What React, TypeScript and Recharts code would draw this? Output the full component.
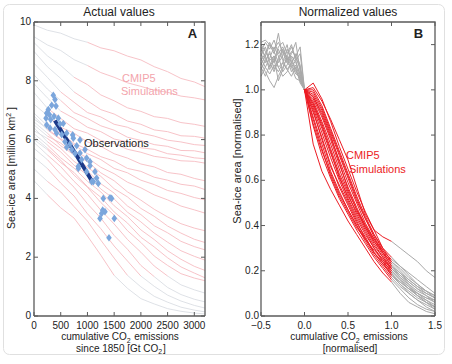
import React from "react";
import { ComposedChart, Line, Scatter, XAxis, YAxis } from "recharts";

const FONT = '"Liberation Sans", Arial, Helvetica, sans-serif';
const FRAME = "#5a5a5a";
const INK = "#222";
const GREY_A = "#dadee3";
const PINK_A = "#f6bcc2";
const GREY_B = "#a9a9a9";
const RED_B = "#ec1c24";
const OBS = "#7ba6dc";
const OBS_FIT = "#1c3a8a";

// ---- panel A: actual values (sea-ice area vs cumulative emissions) ----
const domainXA = [0, 3200];
const domainYA = [0, 10];
const emissionsA = [0, 250, 500, 750, 1000, 1250, 1500, 1750, 2000, 2250, 2500, 2750, 3000, 3200];
const modelAreaA = [
  [9.9, 9.72, 9.62, 9.43, 9.31, 9.12, 9.02, 8.84, 8.71, 8.48, 8.31, 8.08, 7.96, 7.8],
  [9.5, 9.22, 9.03, 8.72, 8.52, 8.28, 8.12, 7.93, 7.81, 7.68, 7.61, 7.48, 7.42, 7.35],
  [9.3, 8.85, 8.52, 8.12, 7.87, 7.52, 7.32, 7.08, 6.96, 6.78, 6.72, 6.58, 6.52, 6.45],
  [9.0, 8.48, 8.08, 7.62, 7.32, 7.02, 6.87, 6.63, 6.52, 6.33, 6.27, 6.13, 6.11, 6.05],
  [8.6, 8.12, 7.62, 7.27, 6.92, 6.77, 6.52, 6.42, 6.22, 6.12, 5.98, 5.92, 5.83, 5.8],
  [8.2, 7.72, 7.33, 6.92, 6.72, 6.47, 6.32, 6.08, 5.97, 5.83, 5.77, 5.63, 5.62, 5.55],
  [7.9, 7.42, 6.97, 6.72, 6.42, 6.27, 6.02, 5.92, 5.72, 5.67, 5.52, 5.47, 5.38, 5.35],
  [7.6, 7.07, 6.72, 6.37, 6.22, 5.97, 5.87, 5.67, 5.57, 5.43, 5.37, 5.28, 5.26, 5.2],
  [7.2, 6.82, 6.42, 6.22, 5.92, 5.77, 5.52, 5.37, 5.17, 5.07, 4.88, 4.82, 4.68, 4.6],
  [6.9, 6.47, 6.22, 5.87, 5.67, 5.42, 5.27, 5.02, 4.92, 4.72, 4.62, 4.48, 4.42, 4.3],
  [6.7, 6.37, 6.02, 5.82, 5.52, 5.32, 5.02, 4.87, 4.62, 4.47, 4.27, 4.17, 4.03, 3.95],
  [6.8, 6.33, 6.0, 5.62, 5.38, 5.06, 4.84, 4.55, 4.36, 4.12, 3.95, 3.74, 3.61, 3.5],
  [6.5, 6.12, 5.88, 5.52, 5.25, 4.87, 4.6, 4.22, 3.94, 3.63, 3.37, 3.14, 2.99, 2.9],
  [6.6, 6.22, 5.79, 5.48, 5.05, 4.75, 4.33, 4.05, 3.66, 3.39, 3.06, 2.82, 2.61, 2.5],
  [6.3, 6.04, 5.7, 5.26, 4.93, 4.5, 4.18, 3.74, 3.45, 3.07, 2.83, 2.54, 2.36, 2.25],
  [6.4, 5.93, 5.58, 5.13, 4.8, 4.32, 3.98, 3.53, 3.2, 2.82, 2.51, 2.22, 2.03, 1.9],
  [6.2, 5.82, 5.38, 5.03, 4.58, 4.22, 3.75, 3.38, 2.93, 2.6, 2.22, 1.93, 1.69, 1.55],
  [6.0, 5.66, 5.22, 4.88, 4.4, 4.04, 3.54, 3.16, 2.68, 2.35, 1.98, 1.67, 1.46, 1.3],
  [6.1, 5.71, 5.3, 4.79, 4.38, 3.86, 3.43, 2.9, 2.5, 2.04, 1.72, 1.44, 1.29, 1.2],
  [5.9, 5.48, 5.08, 4.58, 4.14, 3.6, 3.13, 2.6, 2.17, 1.7, 1.36, 1.06, 0.89, 0.78],
  [5.7, 5.32, 4.82, 4.38, 3.82, 3.33, 2.74, 2.27, 1.72, 1.34, 0.97, 0.73, 0.57, 0.48],
  [5.4, 5.02, 4.52, 4.08, 3.48, 2.97, 2.38, 1.87, 1.36, 1.01, 0.71, 0.51, 0.36, 0.27],
  [5.0, 4.58, 4.22, 3.72, 3.23, 2.58, 1.97, 1.38, 0.99, 0.67, 0.47, 0.3, 0.2, 0.14],
  [4.6, 4.12, 3.68, 3.33, 2.72, 2.07, 1.38, 0.94, 0.59, 0.41, 0.25, 0.16, 0.1, 0.07],
];
// index on the emission grid where each model turns pink, and where it turns grey again
const pinkFromA = [4, 4, 3, 3, 2, 2, 2, 1, 1, 1, 1, 1, 1, 1, 1, 1, 1, 1, 1, 1, 1, 1, 1, 1];
const pinkToA = [13, 13, 13, 13, 13, 13, 13, 13, 13, 13, 13, 13, 13, 13, 13, 13, 13, 13, 13, 10, 9, 8, 7, 6];

const obsEmissions = [
  361, 393, 331, 412, 268, 237, 287, 374, 225, 312, 237, 300, 393, 455, 487, 424, 518, 612,
  580, 674, 736, 612, 705, 799, 861, 955, 985, 892, 1048, 830, 830, 985, 1141, 1110, 1203,
  1297, 1453, 1266, 1328, 1235, 1503, 1403, 548, 724, 861, 767, 1048, 1172, 1079, 1422, 1285,
];
const obsArea = [
  7.51, 7.36, 7.17, 7.14, 7.02, 6.9, 6.85, 6.79, 6.73, 6.68, 6.5, 6.39, 6.34, 6.73, 6.53, 6.22,
  6.17, 6.22, 5.93, 5.85, 6.05, 5.74, 5.66, 5.79, 5.54, 5.66, 5.37, 5.32, 5.11, 5.09, 5.02,
  4.91, 4.91, 4.57, 4.51, 4.0, 4.0, 3.49, 3.55, 3.32, 3.32, 2.66, 6.55, 6.16, 5.99, 5.53, 5.25,
  4.69, 4.57, 4.02, 3.6,
];
const obsFitEmissions = [390, 560, 740, 910, 1075];
const obsFitArea = [6.65, 6.15, 5.63, 5.12, 4.62];

const xTicksA = [0, 500, 1000, 1500, 2000, 2500, 3000];
const yTicksA = [0, 2, 4, 6, 8, 10];

// ---- panel B: normalized values ----
const domainXB = [-0.5, 1.5];
const domainYB = [0, 1.3];
const normEarlyX = [-0.5, -0.45, -0.4, -0.35, -0.3, -0.25, -0.2, -0.15, -0.1, -0.05, 0];
const normEarly = [
  [1.21, 1.22, 1.2, 1.18, 1.21, 1.17, 1.15, 1.19, 1.14, 1.1, 1.0],
  [1.18, 1.15, 1.2, 1.16, 1.25, 1.14, 1.12, 1.16, 1.21, 1.08, 1.0],
  [1.15, 1.19, 1.12, 1.08, 1.13, 1.17, 1.12, 1.1, 1.13, 1.06, 1.0],
  [1.12, 1.08, 1.04, 1.01, 1.06, 1.1, 1.14, 1.08, 1.11, 1.05, 1.0],
  [1.2, 1.17, 1.13, 1.15, 1.1, 1.12, 1.18, 1.14, 1.09, 1.04, 1.0],
  [1.09, 1.13, 1.16, 1.12, 1.18, 1.13, 1.09, 1.12, 1.16, 1.11, 1.0],
  [1.17, 1.21, 1.18, 1.22, 1.16, 1.19, 1.14, 1.13, 1.08, 1.05, 1.0],
  [1.14, 1.1, 1.14, 1.19, 1.15, 1.08, 1.11, 1.15, 1.12, 1.07, 1.0],
  [1.06, 1.1, 1.07, 1.11, 1.08, 1.12, 1.09, 1.06, 1.1, 1.03, 1.0],
  [1.19, 1.14, 1.09, 1.13, 1.19, 1.21, 1.16, 1.2, 1.13, 1.16, 1.0],
  [1.13, 1.16, 1.21, 1.17, 1.12, 1.15, 1.2, 1.11, 1.07, 1.06, 1.0],
  [1.1, 1.06, 1.11, 1.15, 1.1, 1.06, 1.08, 1.12, 1.15, 1.09, 1.0],
  [1.16, 1.12, 1.17, 1.09, 1.14, 1.18, 1.13, 1.17, 1.15, 1.19, 1.0],
  [1.11, 1.15, 1.1, 1.14, 1.04, 1.09, 1.15, 1.1, 1.05, 1.04, 1.0],
];
const normMidX = [0, 0.1, 0.2, 0.3, 0.4, 0.5, 0.6, 0.7, 0.8, 0.9, 1.0];
const normMid = [
  [1.0, 0.76, 0.64, 0.56, 0.49, 0.42, 0.36, 0.3, 0.24, 0.19, 0.15],
  [1.0, 0.84, 0.71, 0.61, 0.52, 0.45, 0.38, 0.32, 0.26, 0.21, 0.16],
  [1.0, 0.88, 0.76, 0.64, 0.55, 0.47, 0.4, 0.33, 0.27, 0.22, 0.17],
  [1.0, 0.9, 0.79, 0.67, 0.57, 0.49, 0.41, 0.35, 0.28, 0.23, 0.18],
  [1.0, 0.92, 0.81, 0.7, 0.6, 0.51, 0.43, 0.36, 0.3, 0.24, 0.18],
  [1.0, 0.93, 0.83, 0.72, 0.62, 0.52, 0.44, 0.37, 0.3, 0.25, 0.19],
  [1.0, 0.94, 0.85, 0.74, 0.63, 0.54, 0.45, 0.38, 0.31, 0.26, 0.2],
  [1.0, 0.95, 0.86, 0.76, 0.65, 0.55, 0.47, 0.39, 0.32, 0.26, 0.21],
  [1.0, 0.96, 0.88, 0.78, 0.67, 0.57, 0.48, 0.4, 0.33, 0.27, 0.21],
  [1.0, 0.97, 0.89, 0.79, 0.69, 0.59, 0.5, 0.41, 0.34, 0.28, 0.22],
  [1.0, 0.98, 0.91, 0.81, 0.71, 0.61, 0.51, 0.43, 0.35, 0.28, 0.22],
  [1.0, 1.0, 0.93, 0.83, 0.73, 0.63, 0.53, 0.44, 0.36, 0.29, 0.23],
  [1.0, 1.03, 0.96, 0.86, 0.75, 0.65, 0.55, 0.46, 0.38, 0.3, 0.24],
  [1.0, 1.01, 0.95, 0.87, 0.78, 0.69, 0.57, 0.45, 0.38, 0.35, 0.33],
  [1.0, 0.87, 0.74, 0.62, 0.53, 0.46, 0.39, 0.34, 0.28, 0.23, 0.19],
  [1.0, 0.91, 0.78, 0.66, 0.58, 0.5, 0.42, 0.34, 0.28, 0.24, 0.2],
  [1.0, 0.94, 0.84, 0.73, 0.61, 0.53, 0.46, 0.39, 0.33, 0.28, 0.24],
  [1.0, 0.97, 0.9, 0.8, 0.68, 0.56, 0.47, 0.4, 0.34, 0.29, 0.25],
  [1.0, 0.99, 0.92, 0.82, 0.72, 0.62, 0.52, 0.43, 0.36, 0.3, 0.26],
  [1.0, 0.85, 0.73, 0.63, 0.54, 0.47, 0.4, 0.34, 0.29, 0.25, 0.21],
];
// grey continuation after the red part ends (x = 1.1 .. 1.5)
const normLateX = [1.1, 1.2, 1.3, 1.4, 1.5];
const normLate = [
  [0.1, 0.06, 0.04, 0.02, 0.01],
  [0.12, 0.08, 0.05, 0.03, 0.02],
  [0.13, 0.1, 0.07, 0.05, 0.03],
  [0.14, 0.11, 0.08, 0.06, 0.04],
  [0.15, 0.12, 0.09, 0.07, 0.05],
  [0.15, 0.12, 0.1, 0.08, 0.06],
  [0.16, 0.13, 0.1, 0.08, 0.07],
  [0.17, 0.14, 0.11, 0.09, 0.07],
  [0.18, 0.15, 0.12, 0.1, 0.08],
  [0.19, 0.16, 0.13, 0.11, 0.09],
  [0.18, 0.14, 0.1, 0.07, 0.04],
  [0.19, 0.15, 0.12, 0.09, 0.06],
  [0.2, 0.16, 0.13, 0.1, 0.08],
  [0.3, 0.27, 0.24, 0.2, 0.17],
  [0.14, 0.1, 0.07, 0.04, 0.02],
  [0.16, 0.12, 0.09, 0.06, 0.04],
  [0.21, 0.17, 0.14, 0.11, 0.09],
  [0.22, 0.19, 0.16, 0.13, 0.1],
  [0.22, 0.18, 0.14, 0.11, 0.08],
  [0.17, 0.13, 0.09, 0.06, 0.03],
];
const xTicksB = [-0.5, 0, 0.5, 1.0, 1.5];
const yTicksB = [0, 0.2, 0.4, 0.6, 0.8, 1.0, 1.2];

// layout of the two panels (page pixels)
const PANEL_W = 226;
const PANEL_H = 364;
const PLOT_TOP = 22;
const XAXIS_H = 48;
const PLOT_H = PANEL_H - PLOT_TOP - XAXIS_H;
const layoutA = { left: 0, yAxisW: 34, right: 21 };
const layoutB = { left: 226, yAxisW: 35, right: 17 };

type Pt = { x: number; y: number };
const toPts = (xs: number[], ys: number[]): Pt[] => ys.map((y, i) => ({ x: xs[i], y }));

const modelsA = modelAreaA.map((vals, i) => {
  const pts = toPts(emissionsA, vals);
  return {
    early: pts.slice(0, pinkFromA[i] + 1),
    mid: pts.slice(pinkFromA[i], pinkToA[i] + 1),
    late: pts.slice(pinkToA[i]),
  };
});
const obsPts = toPts(obsEmissions, obsArea);
const obsFitPts = toPts(obsFitEmissions, obsFitArea);

const earlyB = normEarly.map((v) => toPts(normEarlyX, v));
const midB = normMid.map((v) => toPts(normMidX, v));
const lateB = normLate.map((v, i) => [midB[i][midB[i].length - 1], ...toPts(normLateX, v)]);

const fmtInt = (v: number) => String(v);
const fmtOne = (v: number) => v.toFixed(1).replace("-", "\u2212");

// ticks point inward, matlab style
const leftTick = (fmt: (v: number) => string, gap: number) => (p: any) => (
  <g>
    <line x1={p.x + gap} x2={p.x + gap + 4} y1={p.y} y2={p.y} stroke={FRAME} />
    <text x={p.x} y={p.y} dy={3} textAnchor="end" fontSize={10} fontFamily={FONT} fill={INK}>
      {fmt(p.payload.value)}
    </text>
  </g>
);
const bottomTick = (fmt: (v: number) => string) => (p: any) => (
  <g>
    <line x1={p.x} x2={p.x} y1={p.y - 3} y2={p.y - 7} stroke={FRAME} />
    <text x={p.x} y={p.y} dy={9.5} textAnchor="middle" fontSize={10} fontFamily={FONT} fill={INK}>
      {fmt(p.payload.value)}
    </text>
  </g>
);

const axisLine = { stroke: FRAME, strokeWidth: 1.3 };

const diamond = (p: any) => (
  <path
    d={`M${p.cx},${p.cy - 3.8}L${p.cx + 2.8},${p.cy}L${p.cx},${p.cy + 3.8}L${p.cx - 2.8},${p.cy}Z`}
    fill={OBS}
  />
);

function seg(key: string, data: Pt[], color: string, w: number) {
  if (data.length < 2) return null;
  return (
    <Line key={key} data={data} dataKey="y" type="linear" stroke={color} strokeWidth={w}
      dot={false} activeDot={false} isAnimationActive={false} />
  );
}

// top and right edges of a panel's box, with inward ticks
function BoxEdges({ lay, dx, dy, xTicks, yTicks }: any) {
  const x0 = lay.left + lay.yAxisW;
  const w = PANEL_W - lay.yAxisW - lay.right;
  const x1 = x0 + w;
  const y0 = PLOT_TOP;
  const y1 = PLOT_TOP + PLOT_H;
  const px = (v: number) => x0 + ((v - dx[0]) / (dx[1] - dx[0])) * w;
  const py = (v: number) => y1 - ((v - dy[0]) / (dy[1] - dy[0])) * PLOT_H;
  return (
    <g stroke={FRAME}>
      <path d={`M${x0},${y0}H${x1}V${y1}`} fill="none" strokeWidth={1.3} />
      {xTicks.map((v: number) => (
        <line key={`t${v}`} x1={px(v)} x2={px(v)} y1={y0} y2={y0 + 4} />
      ))}
      {yTicks.map((v: number) => (
        <line key={`r${v}`} x1={x1} x2={x1 - 4} y1={py(v)} y2={py(v)} />
      ))}
    </g>
  );
}

function PanelA() {
  return (
    <ComposedChart width={PANEL_W} height={PANEL_H}
      margin={{ top: PLOT_TOP, right: layoutA.right, bottom: 0, left: 0 }}>
      <XAxis type="number" dataKey="x" domain={domainXA} ticks={xTicksA} interval={0}
        height={XAXIS_H} tickLine={false} tickSize={0} tickMargin={3}
        axisLine={axisLine} tick={bottomTick(fmtInt)} />
      <YAxis type="number" dataKey="y" domain={domainYA} ticks={yTicksA} interval={0}
        width={layoutA.yAxisW} tickLine={false} tickSize={0} tickMargin={3}
        axisLine={axisLine} tick={leftTick(fmtInt, 3)} />
      {modelsA.map((m, i) => seg(`ae${i}`, m.early, GREY_A, 0.9))}
      {modelsA.map((m, i) => seg(`al${i}`, m.late, GREY_A, 0.9))}
      {modelsA.map((m, i) => seg(`am${i}`, m.mid, PINK_A, 0.9))}
      <Scatter data={obsPts} dataKey="y" shape={diamond} isAnimationActive={false} />
      <Line data={obsFitPts} dataKey="y" type="monotone" stroke={OBS_FIT} strokeWidth={4}
        dot={false} activeDot={false} isAnimationActive={false} />
    </ComposedChart>
  );
}

function PanelB() {
  return (
    <ComposedChart width={PANEL_W} height={PANEL_H}
      margin={{ top: PLOT_TOP, right: layoutB.right, bottom: 0, left: 0 }}>
      <XAxis type="number" dataKey="x" domain={domainXB} ticks={xTicksB} interval={0}
        height={XAXIS_H} tickLine={false} tickSize={0} tickMargin={3}
        axisLine={axisLine} tick={bottomTick(fmtOne)} />
      <YAxis type="number" dataKey="y" domain={domainYB} ticks={yTicksB} interval={0}
        width={layoutB.yAxisW} tickLine={false} tickSize={0} tickMargin={2}
        axisLine={axisLine} tick={leftTick(fmtOne, 2)} />
      {earlyB.map((d, i) => seg(`be${i}`, d, GREY_B, 1))}
      {lateB.map((d, i) => seg(`bl${i}`, d, GREY_B, 1))}
      {midB.map((d, i) => seg(`bm${i}`, d, RED_B, 1))}
    </ComposedChart>
  );
}

const sub = (s: string) => (
  <>
    <tspan fontSize={7} dy={2.5}>{s}</tspan>
    <tspan dy={-2.5}>{"\u200a"}</tspan>
  </>
);

export default function App() {
  const t = { fontFamily: FONT, fill: INK };
  return (
    <div style={{ position: "absolute", left: 0, top: 0, width: 452, height: 364, background: "#fff" }}>
      <div style={{ position: "absolute", left: layoutA.left, top: 0 }}>
        <PanelA />
      </div>
      <div style={{ position: "absolute", left: layoutB.left, top: 0 }}>
        <PanelB />
      </div>
      <svg width={452} height={364} style={{ position: "absolute", left: 0, top: 0, pointerEvents: "none" }}>
        <rect x={3.5} y={4.5} width={441} height={350} rx={6} fill="none" stroke="#e0e0e0" />
        <BoxEdges lay={layoutA} dx={domainXA} dy={domainYA} xTicks={xTicksA} yTicks={yTicksA} />
        <BoxEdges lay={layoutB} dx={domainXB} dy={domainYB} xTicks={xTicksB} yTicks={yTicksB} />

        <text x={119} y={16} textAnchor="middle" fontSize={12} {...t}>Actual values</text>
        <text x={348} y={16} textAnchor="middle" fontSize={12} {...t}>Normalized values</text>
        <text x={192.5} y={38} textAnchor="middle" fontSize={13} fontWeight="bold" {...t}>A</text>
        <text x={418.5} y={38} textAnchor="middle" fontSize={13} fontWeight="bold" {...t}>B</text>

        <text x={15} y={168} transform="rotate(-90 15 168)" textAnchor="middle" fontSize={10.5} {...t}>
          Sea-ice area [million km<tspan fontSize={7} dy={-4}>2</tspan><tspan dy={4}> ]</tspan>
        </text>
        <text x={241} y={161} transform="rotate(-90 241 161)" textAnchor="middle" fontSize={11} {...t}>
          Sea-ice area [normalised]
        </text>

        <text x={120} y={340} textAnchor="middle" fontSize={10} {...t}>
          cumulative CO{sub("2")} emissions
        </text>
        <text x={121} y={351.5} textAnchor="middle" fontSize={10} {...t}>
          since 1850 [Gt CO{sub("2")}]
        </text>
        <text x={349} y={340} textAnchor="middle" fontSize={10} {...t}>
          cumulative CO{sub("2")} emissions
        </text>
        <text x={350} y={351.5} textAnchor="middle" fontSize={10} {...t}>
          [normalised]
        </text>

        <text x={122} y={82} fontSize={11} fontFamily={FONT} fill="#f3a4ac">CMIP5</text>
        <text x={121} y={95} fontSize={11} fontFamily={FONT} fill="#f3a4ac">Simulations</text>
        <text x={84} y={147} fontSize={11} {...t}>Observations</text>
        <text x={346} y={159} fontSize={11} fontFamily={FONT} fill={RED_B}>CMIP5</text>
        <text x={349} y={173} fontSize={11} fontFamily={FONT} fill={RED_B}>Simulations</text>
      </svg>
    </div>
  );
}
